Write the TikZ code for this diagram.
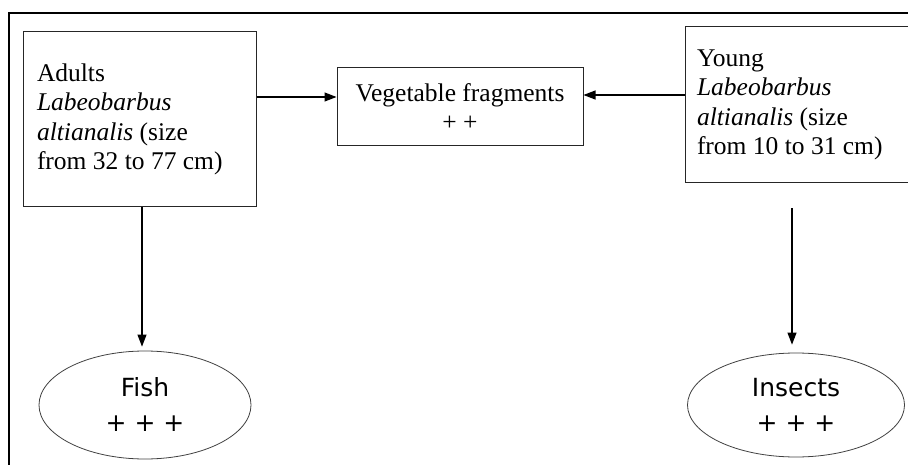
\documentclass[tikz,border=0pt]{standalone}
\usepackage{fontspec}
\setmainfont{Liberation Serif}
\newfontfamily\sansf{DejaVu Sans}
\usetikzlibrary{shapes.geometric,arrows.meta}
\newcommand{\serifsz}{\fontsize{25.5}{29.5}\selectfont}
\begin{document}
\begin{tikzpicture}[x=1pt,y=-1pt,
  every node/.style={inner sep=0pt},
  sbox/.style={draw=black!85,line width=1pt,rectangle,align=flush left,
    font=\serifsz},
  mbox/.style={draw=black!85,line width=1pt,rectangle,align=flush center,
    minimum width=246pt,minimum height=78pt,font=\serifsz},
  ell/.style={draw=black!75,line width=0.8pt,ellipse,align=center,
    font=\sansf\fontsize{25}{35}\selectfont},
  conn/.style={line width=1.1pt,-{Triangle[length=12pt,width=9pt]}},
  frame/.style={line width=1.2pt}]
\useasboundingbox (0,0) rectangle (908,465);
\clip (0,0) rectangle (908,465);
% frame
\coordinate (f0) at (9,465);
\coordinate (f1) at (9,13);
\coordinate (f2) at (908,13);
\draw[frame] (f0) -- (f1) -- (f2);
% boxes
\node[sbox,text width=205pt,inner xsep=14pt,minimum height=175pt] (A) at (139.5,119.5)
  {Adults\\ \textit{Labeobarbus}\\ \textit{altianalis} (size\\ from 32 to 77 cm)};
\node[mbox] (V) at (460,107) {Vegetable fragments\\ + +};
\node[sbox,text width=212pt,inner xsep=12pt,minimum height=156pt] (Y) at (803,105)
  {Young\\ \textit{Labeobarbus}\\ \textit{altianalis} (size\\ from 10 to 31 cm)};
% ellipses
\node[ell,minimum width=212pt,minimum height=108pt] (F) at (145,405) {Fish\\ + + +};
\node[ell,minimum width=217pt,minimum height=104pt] (I) at (796,405) {Insects\\ + + +};
% connectors
\coordinate (ya) at (0,97);
\coordinate (yb) at (0,95);
\coordinate (xa) at (142,0);
\coordinate (xb) at (792,0);
\draw[conn] (A.east |- ya) -- (V.west |- ya);
\draw[conn] (Y.west |- yb) -- (V.east |- yb);
\draw[conn,shorten >=4pt] (xa |- A.south) -- (xa |- F.north);
\draw[conn,shorten <=25pt,shorten >=8pt] (xb |- Y.south) -- (xb |- I.north);
\end{tikzpicture}
\end{document}
